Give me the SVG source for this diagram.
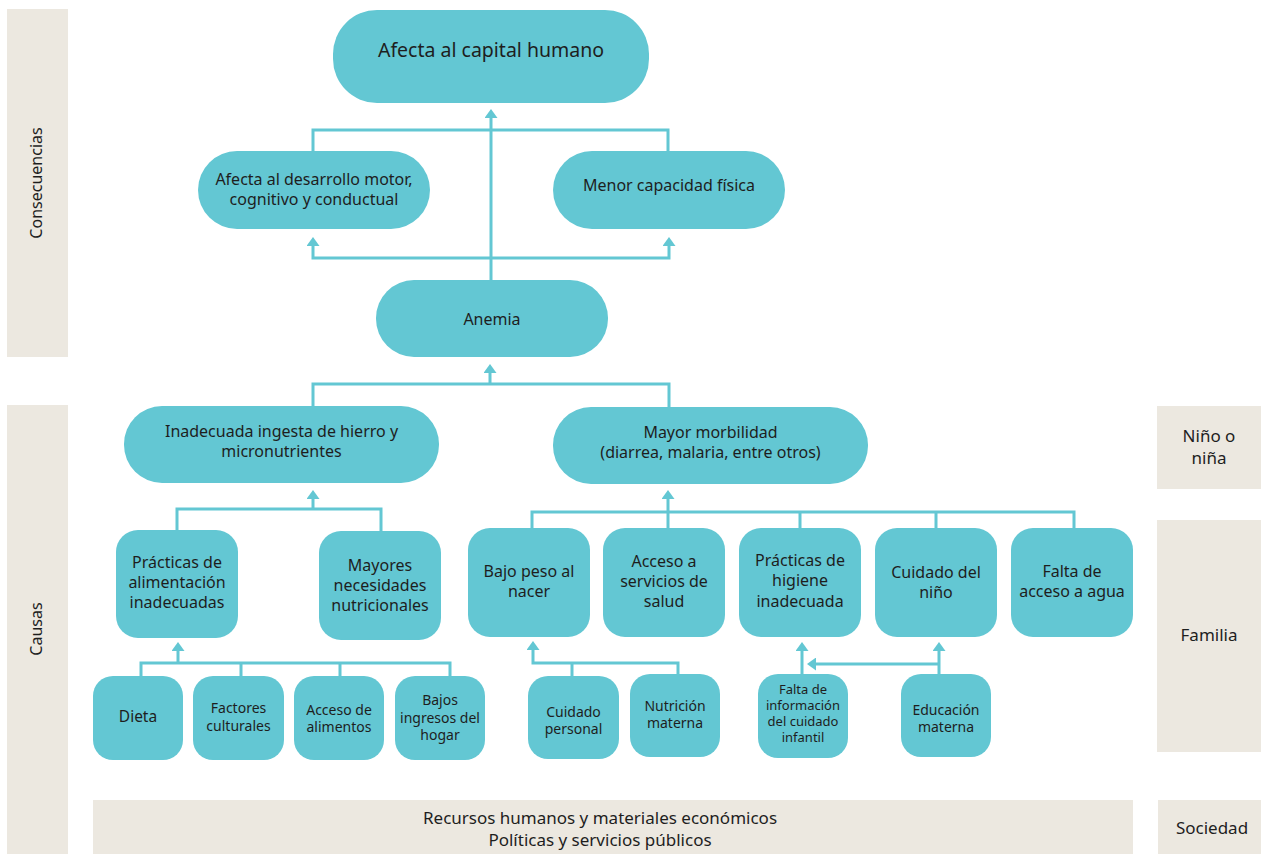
<svg xmlns="http://www.w3.org/2000/svg" width="1261" height="854" viewBox="0 0 1261 854">
<style>
.n{fill:#63C7D3}
.b{fill:#ECE8E0}
text{font-family:"Noto Sans","Open Sans","Liberation Sans",sans-serif;fill:#1E1E1E;text-anchor:middle}
.t16{font-size:16px}
.t14{font-size:14px}
.t13{font-size:13px}
.t17{font-size:17px}
.c{fill:none;stroke:#63C7D3;stroke-width:3}
.a{marker-end:url(#ah)}
</style>
<defs>
<marker id="ah" viewBox="0 0 10 10" refX="5.56" refY="5" markerWidth="9" markerHeight="13" markerUnits="userSpaceOnUse" orient="auto" preserveAspectRatio="none">
<path d="M0,0 L10,5 L0,10 z" fill="#63C7D3"/>
</marker>
</defs>
<rect width="1261" height="854" fill="#FFFFFF"/>

<g id="bands">
<rect class="b" x="7" y="9" width="61" height="348"/>
<rect class="b" x="7" y="405" width="61" height="449"/>
<rect class="b" x="1157" y="406" width="104" height="83"/>
<rect class="b" x="1157" y="520" width="104" height="232"/>
<rect class="b" x="1158" y="800" width="103" height="54"/>
<rect class="b" x="93" y="800" width="1040" height="54"/>
<text class="t16" transform="translate(42,183) rotate(-90)">Consecuencias</text>
<text class="t16" transform="translate(42,629) rotate(-90)">Causas</text>
<text class="t17" x="1209" y="442">Niño o</text>
<text class="t17" x="1209" y="464">niña</text>
<text class="t17" x="1209" y="641">Familia</text>
<text class="t17" x="1212" y="834">Sociedad</text>
<text class="t17" x="600" y="824">Recursos humanos y materiales económicos</text>
<text class="t17" x="600" y="846">Políticas y servicios públicos</text>
</g>

<g id="connectors">
<path class="c a" d="M491,280 V113"/>
<path class="c" d="M313,151 V130 H668 V151"/>
<path class="c a" d="M491,258 H313 V241"/>
<path class="c a" d="M491,258 H669 V241"/>
<path class="c" d="M313,406 V384 H669 V407"/>
<path class="c a" d="M490,384 V368"/>
<path class="c" d="M177,530 V509 H381 V531"/>
<path class="c a" d="M313,509 V494"/>
<path class="c" d="M532,528 V512 H1074 V528 M800,512 V528 M936,512 V528"/>
<path class="c a" d="M668,528 V494"/>
<path class="c" d="M141,676 V663 H450 V676 M241,663 V676 M340,663 V676"/>
<path class="c a" d="M178,663 V646"/>
<path class="c a" d="M678,674 V663 H533 V645"/>
<path class="c" d="M572,663 V676"/>
<path class="c a" d="M802,674 V646"/>
<path class="c a" d="M939,674 V646"/>
<path class="c a" d="M939,664 H811"/>
</g>

<g id="n-capital"><rect class="n" x="333" y="10" width="316" height="93" rx="44"/>
<text x="491" y="57" style="font-size:19.5px">Afecta al capital humano</text></g>

<g id="n-desarrollo"><rect class="n" x="198" y="151" width="232" height="78" rx="39"/>
<text class="t16" x="314" y="185">Afecta al desarrollo motor,</text>
<text class="t16" x="314" y="205">cognitivo y conductual</text></g>

<g id="n-menor"><rect class="n" x="553" y="151" width="232" height="78" rx="39"/>
<text class="t16" x="669" y="191">Menor capacidad física</text></g>

<g id="n-anemia"><rect class="n" x="376" y="280" width="232" height="77" rx="38"/>
<text class="t16" x="492" y="325">Anemia</text></g>

<g id="n-inadecuada"><rect class="n" x="124" y="406" width="315" height="77" rx="38"/>
<text class="t16" x="281.5" y="437">Inadecuada ingesta de hierro y</text>
<text class="t16" x="281.5" y="457">micronutrientes</text></g>

<g id="n-morbilidad"><rect class="n" x="553" y="407" width="315" height="77" rx="38"/>
<text class="t16" x="710.5" y="438">Mayor morbilidad</text>
<text class="t16" x="710.5" y="458">(diarrea, malaria, entre otros)</text></g>

<g id="n-practicas-alim"><rect class="n" x="116" y="530" width="122" height="108" rx="22"/>
<text class="t16" x="177" y="568">Prácticas de</text>
<text class="t16" x="177" y="588">alimentación</text>
<text class="t16" x="177" y="608">inadecuadas</text></g>

<g id="n-mayores"><rect class="n" x="319" y="531" width="122" height="109" rx="22"/>
<text class="t16" x="380" y="571">Mayores</text>
<text class="t16" x="380" y="591">necesidades</text>
<text class="t16" x="380" y="611">nutricionales</text></g>

<g id="n-bajo-peso"><rect class="n" x="468" y="528" width="122" height="109" rx="22"/>
<text class="t16" x="529" y="577">Bajo peso al</text>
<text class="t16" x="529" y="597">nacer</text></g>

<g id="n-acceso-salud"><rect class="n" x="603" y="528" width="122" height="109" rx="22"/>
<text class="t16" x="664" y="567">Acceso a</text>
<text class="t16" x="664" y="587">servicios de</text>
<text class="t16" x="664" y="607">salud</text></g>

<g id="n-higiene"><rect class="n" x="739" y="528" width="122" height="109" rx="22"/>
<text class="t16" x="800" y="566">Prácticas de</text>
<text class="t16" x="800" y="586">higiene</text>
<text class="t16" x="800" y="607">inadecuada</text></g>

<g id="n-cuidado-nino"><rect class="n" x="875" y="528" width="122" height="109" rx="22"/>
<text class="t16" x="936" y="578">Cuidado del</text>
<text class="t16" x="936" y="598">niño</text></g>

<g id="n-agua"><rect class="n" x="1011" y="528" width="122" height="109" rx="22"/>
<text class="t16" x="1072" y="577">Falta de</text>
<text class="t16" x="1072" y="597">acceso a agua</text></g>

<g id="n-dieta"><rect class="n" x="93" y="676" width="90" height="84" rx="20"/>
<text x="138" y="722" style="font-size:15.5px">Dieta</text></g>

<g id="n-factores"><rect class="n" x="193" y="676" width="91" height="84" rx="20"/>
<text class="t14" x="238.5" y="713">Factores</text>
<text class="t14" x="238.5" y="731">culturales</text></g>

<g id="n-acceso-alim"><rect class="n" x="294" y="676" width="90" height="84" rx="20"/>
<text class="t14" x="339" y="715">Acceso de</text>
<text class="t14" x="339" y="732">alimentos</text></g>

<g id="n-ingresos"><rect class="n" x="395" y="676" width="90" height="84" rx="20"/>
<text class="t14" x="440" y="705">Bajos</text>
<text class="t14" x="440" y="723">ingresos del</text>
<text class="t14" x="440" y="740">hogar</text></g>

<g id="n-cuidado-personal"><rect class="n" x="528" y="676" width="91" height="83" rx="20"/>
<text class="t14" x="573.5" y="717">Cuidado</text>
<text class="t14" x="573.5" y="734">personal</text></g>

<g id="n-nutricion"><rect class="n" x="630" y="674" width="90" height="83" rx="20"/>
<text class="t14" x="675" y="711">Nutrición</text>
<text class="t14" x="675" y="728">materna</text></g>

<g id="n-falta-info"><rect class="n" x="758" y="674" width="90" height="84" rx="20"/>
<text class="t13" x="803" y="694">Falta de</text>
<text class="t13" x="803" y="710">información</text>
<text class="t13" x="803" y="726">del cuidado</text>
<text class="t13" x="803" y="742">infantil</text></g>

<g id="n-educacion"><rect class="n" x="901" y="674" width="90" height="83" rx="20"/>
<text class="t14" x="946" y="715">Educación</text>
<text class="t14" x="946" y="732">materna</text></g>
</svg>
